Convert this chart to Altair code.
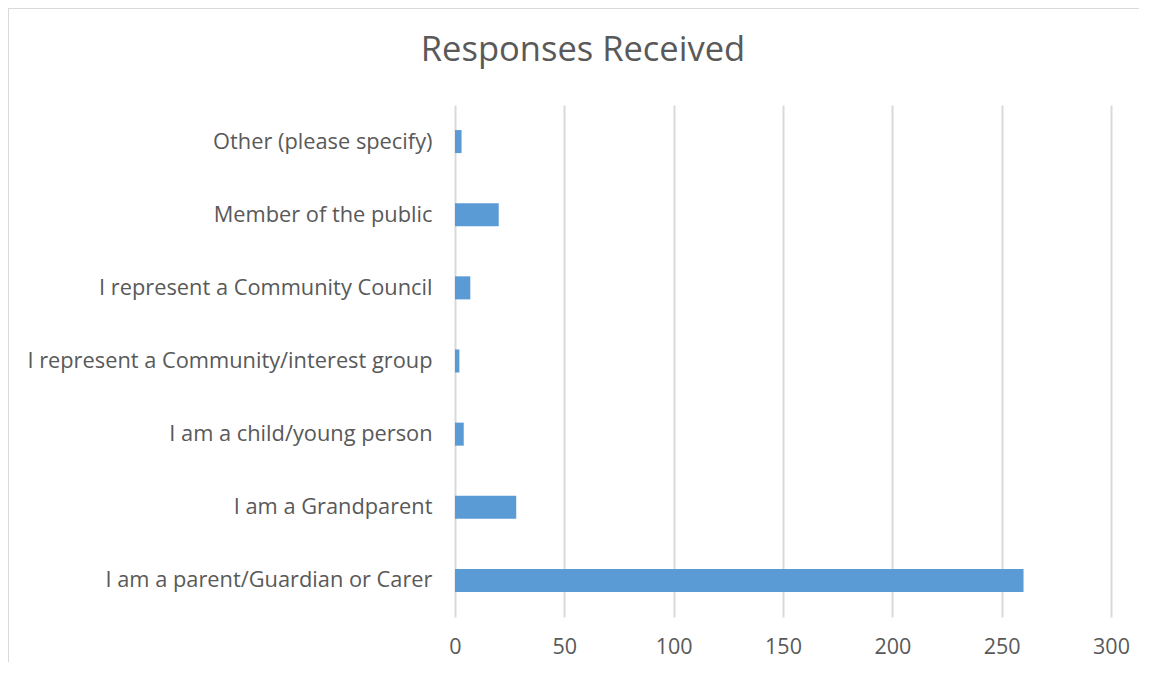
import altair as alt
import pandas as pd

categories = [
    "Other (please specify)",
    "Member of the public",
    "I represent a Community Council",
    "I represent a Community/interest group",
    "I am a child/young person",
    "I am a Grandparent",
    "I am a parent/Guardian or Carer",
]
responses = [3, 20, 7, 2, 4, 28, 260]
x_ticks = [0, 50, 100, 150, 200, 250, 300]

df = pd.DataFrame({"category": categories, "responses": responses})

FONT = "Open Sans"
GREY = "#595959"
PLOT_W = 656
PLOT_H = 512
PAD_L = 447
PAD_T = 97

bars = alt.Chart(df).mark_bar(color="#5b9bd5").encode(
    x=alt.X(
        "responses:Q",
        scale=alt.Scale(domain=[0, 300], nice=False),
        axis=alt.Axis(
            values=x_ticks, title=None, domain=False, ticks=False,
            labelFontSize=21.5, labelColor=GREY, labelFont=FONT, labelPadding=19,
            labelFlush=False,
            gridColor="#d9d9d9", gridWidth=2,
        ),
    ),
    y=alt.Y(
        "category:N",
        sort=categories,
        scale=alt.Scale(paddingInner=0.685, paddingOuter=0.3425),
        axis=alt.Axis(
            title=None, domain=False, ticks=False, grid=False,
            labelFontSize=21.8, labelColor=GREY, labelFont=FONT, labelPadding=23,
            labelLimit=500,
        ),
    ),
)

frame = alt.Chart(df).mark_rect(
    fill=None, stroke="#d9d9d9", strokeWidth=2, clip=False
).encode(
    x=alt.value(-PAD_L),
    x2=alt.value(PLOT_W + 60),
    y=alt.value(-PAD_T),
    y2=alt.value(PLOT_H + 80),
)

chart = alt.layer(frame, bars).properties(
    width=PLOT_W,
    height=PLOT_H,
    title=alt.TitleParams(
        "Responses Received", fontSize=34.5, font=FONT, color=GREY,
        fontWeight="normal", anchor="middle", frame="group", dx=-200,
        baseline="alphabetic", offset=-88,
    ),
    autosize=alt.AutoSizeParams(type="none"),
    padding={"left": PAD_L, "top": PAD_T, "right": 28, "bottom": 45},
).configure_view(stroke=None)

chart.save("out.html", embed_options={"renderer": "svg", "actions": False})
